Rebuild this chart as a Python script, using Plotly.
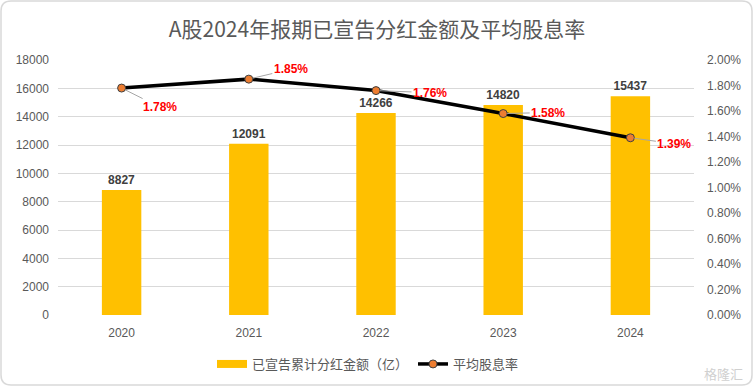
import plotly.graph_objects as go

years = ["2020", "2021", "2022", "2023", "2024"]
dividends = [8827, 12091, 14266, 14820, 15437]
yield_rate = [0.0178, 0.0185, 0.0176, 0.0158, 0.0139]
yield_labels = ["1.78%", "1.85%", "1.76%", "1.58%", "1.39%"]
label_offsets = [(38, 19), (42, -10), (54, 2), (45, -1), (44, 6)]

W, H = 754, 387
L, R, T, B = 58, 60, 60, 72
pw, ph = W - L - R, H - T - B

fig = go.Figure()
fig.add_trace(go.Bar(
    x=years, y=dividends, name="已宣告累计分红金额（亿）", showlegend=False,
    marker=dict(color="#FFC000", line=dict(width=0)),
    text=[str(v) for v in dividends], textposition="outside",
    textfont=dict(family="Liberation Sans, Arial", size=12, color="#404040"),
    texttemplate="<b>%{text}</b>",
    cliponaxis=False, hoverinfo="skip",
))
# legend-only entry with a wide swatch like the original
fig.add_trace(go.Scatter(
    x=[None], y=[None], name="已宣告累计分红金额（亿）", mode="lines",
    line=dict(color="#FFC000", width=8), hoverinfo="skip",
))
fig.add_trace(go.Scatter(
    x=years, y=yield_rate, name="平均股息率", yaxis="y2", mode="lines+markers",
    line=dict(color="black", width=3.5),
    marker=dict(color="#ED7D31", size=8, line=dict(color="#404040", width=1)),
    hoverinfo="skip",
))

for i, (y, t, (ax, ay)) in enumerate(zip(yield_rate, yield_labels, label_offsets)):
    fig.add_annotation(
        x=i, y=y, xref="x", yref="y2", text="<b>" + t + "</b>",
        showarrow=True, arrowhead=0, arrowwidth=1, arrowcolor="#A6A6A6",
        ax=ax, ay=ay, standoff=4,
        font=dict(family="Liberation Sans, Arial", size=12, color="#FF0000"),
    )

def px(xp):
    return (xp - L) / pw

def py(yp):
    return (H - B - yp) / ph

# rounded outer border
x0, x1, y0, y1, r = 1, W - 2, 1, H - 2, 10
path = (f"M {px(x0 + r)},{py(y0)} L {px(x1 - r)},{py(y0)} "
        f"Q {px(x1)},{py(y0)} {px(x1)},{py(y0 + r)} L {px(x1)},{py(y1 - r)} "
        f"Q {px(x1)},{py(y1)} {px(x1 - r)},{py(y1)} L {px(x0 + r)},{py(y1)} "
        f"Q {px(x0)},{py(y1)} {px(x0)},{py(y1 - r)} L {px(x0)},{py(y0 + r)} "
        f"Q {px(x0)},{py(y0)} {px(x0 + r)},{py(y0)} Z")
fig.add_shape(type="path", path=path, xref="paper", yref="paper",
              line=dict(color="#D9D9D9", width=1.5), layer="below")

fig.add_annotation(x=px(745), y=py(373), xref="paper", yref="paper",
                   text="格隆汇", showarrow=False, xanchor="right", yanchor="middle",
                   font=dict(family="Noto Sans CJK SC", size=13, color="#D0D0D0"))

tick_font = dict(family="Liberation Sans, Arial", size=12, color="#595959")
fig.update_layout(
    width=W, height=H,
    margin=dict(l=L, r=R, t=T, b=B, autoexpand=False),
    paper_bgcolor="white", plot_bgcolor="white",
    title=dict(text="A股2024年报期已宣告分红金额及平均股息率", x=0.5, xanchor="center",
               y=1 - 30 / H, yanchor="middle",
               font=dict(family="Noto Sans CJK SC", size=21, color="#595959")),
    xaxis=dict(type="category", range=[-0.5, 4.5], tickfont=tick_font, showgrid=False,
               showline=False, ticks="", fixedrange=True, ticklabelstandoff=9),
    yaxis=dict(range=[0, 18000], dtick=2000, tickformat="d", tickfont=tick_font,
               showgrid=True, gridcolor="#D9D9D9", gridwidth=1, zeroline=False, ticks="",
               ticklabelstandoff=8),
    yaxis2=dict(range=[0, 0.02], dtick=0.002, tickformat=".2%", overlaying="y",
                side="right", tickfont=tick_font, showgrid=False, zeroline=False,
                ticks="", ticklabelstandoff=12),
    legend=dict(orientation="h", x=px(368), xanchor="center", y=-(364 - (H - B)) / ph,
                yanchor="middle", itemwidth=30,
                font=dict(family="Noto Sans CJK SC", size=13, color="#595959")),
    showlegend=True,
    bargap=0.69,
)

fig.write_html("out.html", config={"displayModeBar": False},
               post_script="document.body.style.margin='0';")
